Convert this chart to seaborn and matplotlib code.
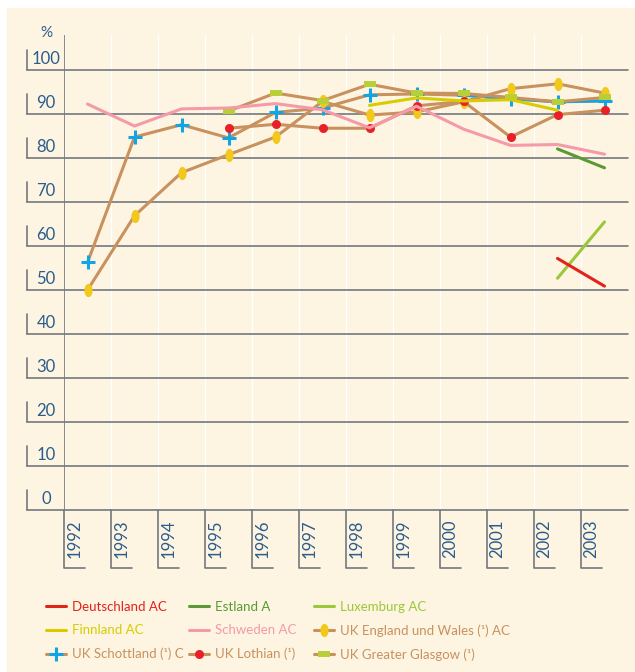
import numpy as np
import matplotlib.pyplot as plt
import pandas as pd
import seaborn as sns
from matplotlib.patches import Rectangle

# values (percent)
years = [1992, 1993, 1994, 1995, 1996, 1997, 1998, 1999, 2000, 2001, 2002, 2003]
schweden = [92.3, 87.3, 91.2, 91.4, 92.4, 91.0, 86.9, 91.8, 86.6, 82.9, 83.1, 80.9]
schottland = [56.3, 84.8, 87.6, 84.6, 90.4, 91.4, 94.4, 94.6, 94.3, 93.5, 92.8, 93.0]
england = [50.0, 66.9, 76.7, 80.8, 84.8, 92.9, 89.8, 90.5, 92.8, 95.8, 96.9, 94.8]

years_uk = [1995, 1996, 1997, 1998, 1999, 2000, 2001, 2002, 2003]
lothian = [86.8, 87.7, 86.8, 86.8, 91.9, 92.9, 84.8, 89.9, 90.9]
glasgow = [90.7, 94.8, 93.1, 96.8, 94.8, 94.7, 93.8, 92.8, 93.8]

years_fin = [1998, 1999, 2000, 2001, 2002]
finnland = [92.0, 93.7, 93.0, 93.3, 90.9]

years_end = [2002, 2003]
estland = [82.1, 77.8]
luxemburg = [52.7, 65.5]
deutschland = [57.2, 50.9]

y_ticks = [0, 10, 20, 30, 40, 50, 60, 70, 80, 90, 100]

cream = '#FDF5E2'
grey = '#74787C'
txt = '#2B5C8C'
tan = '#C8915E'
c_de = '#E2231A'
c_ee = '#5A9A32'
c_lu = '#9DC73A'
c_fi = '#D9CB00'
c_se = '#F59AA8'
c_ew = '#F2C81B'
c_sc = '#12A5E6'
c_lo = '#E8202A'
c_gg = '#B8CF3A'

sns.set_style('white')
plt.rcParams['font.family'] = ['Lato', 'DejaVu Sans']

fig = plt.figure(figsize=(6.35, 6.72), dpi=100)
fig.patches.append(Rectangle((7 / 635, 0), 1, 1 - 8 / 672, transform=fig.transFigure,
                             color=cream, zorder=-10))
ax = fig.add_axes([64 / 635, 1 - 510 / 672, 564 / 635, 475 / 672])
ax.set_facecolor(cream)
for s in ax.spines.values():
    s.set_visible(False)
ax.set_xlim(1991.5, 2003.5)
ax.set_ylim(0, 108)
ax.set_xticks([])
ax.set_yticks([])

# white column separators
for b in np.arange(1992.5, 2004, 1):
    ax.axvline(b, color='white', lw=1, zorder=1)

# horizontal grid, y labels and brackets
ytr = ax.get_yaxis_transform()
for v in y_ticks:
    ax.plot([-0.0656, 1], [v, v], color=grey, lw=1.2, transform=ytr, clip_on=False, zorder=2)
    ax.plot([-0.0656, -0.0656], [v, v + 4.5], color=grey, lw=1.2, transform=ytr,
            clip_on=False, zorder=2)
    ax.text(-0.032, v + 2.6, str(v), transform=ytr, ha='center', va='center',
            fontsize=12, color=txt)
ax.text(-0.032, 108.4, '%', transform=ytr, ha='center', va='center', fontsize=11, color=txt)
ax.axvline(1991.5, color=grey, lw=1.2, zorder=2)

# x labels with brackets
for yr in years:
    b = yr - 0.5
    ax.plot([b, b, b + 0.447], [0, -13.2, -13.2], color=grey, lw=1.2, clip_on=False)
    ax.text(b + 0.225, -2.2, str(yr), rotation=90, ha='center', va='top',
            fontsize=12, color=txt)

ell = list(zip(0.62 * np.cos(np.linspace(0, 2 * np.pi, 40)),
               np.sin(np.linspace(0, 2 * np.pi, 40))))
rect = [(-1, -0.6), (1, -0.6), (1, 0.6), (-1, 0.6), (-1, -0.6)]

handles = {}

sns.lineplot(x=years, y=schottland, ax=ax, color=tan, lw=2.2, marker='+', markersize=10,
             markeredgecolor=c_sc, markeredgewidth=2.2, zorder=5)
handles['sc'] = ax.lines[-1]
sns.lineplot(x=years[8:], y=schottland[8:], ax=ax, color=c_sc, lw=2, zorder=5)
sns.lineplot(x=years, y=england, ax=ax, color=tan, lw=2.2, marker=ell, markersize=9.5,
             markerfacecolor=c_ew, markeredgecolor=c_ew, markeredgewidth=0, zorder=5)
handles['ew'] = ax.lines[-1]
sns.lineplot(x=years_uk, y=lothian, ax=ax, color=tan, lw=2.2, marker='o', markersize=6.5,
             markerfacecolor=c_lo, markeredgecolor=c_lo, markeredgewidth=0, zorder=5)
handles['lo'] = ax.lines[-1]
sns.lineplot(x=years_uk, y=glasgow, ax=ax, color=tan, lw=2.2, marker=rect, markersize=8,
             markerfacecolor=c_gg, markeredgecolor=c_gg, markeredgewidth=0, zorder=5)
handles['gg'] = ax.lines[-1]
sns.lineplot(x=years, y=schweden, ax=ax, color=c_se, lw=2.2, zorder=6)
handles['se'] = ax.lines[-1]
sns.lineplot(x=years_fin, y=finnland, ax=ax, color=c_fi, lw=2.2, zorder=6)
handles['fi'] = ax.lines[-1]
sns.lineplot(x=years_end, y=estland, ax=ax, color=c_ee, lw=2.2, zorder=6)
handles['ee'] = ax.lines[-1]
sns.lineplot(x=years_end, y=luxemburg, ax=ax, color=c_lu, lw=2.2, zorder=6)
handles['lu'] = ax.lines[-1]
sns.lineplot(x=years_end, y=deutschland, ax=ax, color=c_de, lw=2.2, zorder=6)
handles['de'] = ax.lines[-1]

# legend, three columns placed by hand
cols = [
    (46, [('de', 'Deutschland AC', c_de), ('fi', 'Finnland AC', c_fi),
          ('sc', 'UK Schottland (¹) C', tan)]),
    (189, [('ee', 'Estland A', c_ee), ('se', 'Schweden AC', c_se),
           ('lo', 'UK Lothian (¹)', tan)]),
    (314, [('lu', 'Luxemburg AC', c_lu), ('ew', 'UK England und Wales (¹) AC', tan),
           ('gg', 'UK Greater Glasgow (¹)', tan)]),
]
for x0, entries in cols:
    leg = fig.legend([handles[k] for k, _, _ in entries], [l for _, l, _ in entries],
                     loc='upper left', bbox_to_anchor=(x0 / 635, 1 - 601 / 672),
                     frameon=False, fontsize=9.5, handlelength=1.5, handletextpad=0.45,
                     labelspacing=0.86, borderpad=0, borderaxespad=0)
    for t, (_, _, c) in zip(leg.get_texts(), entries):
        t.set_color(c)

fig.savefig('out.png', dpi=100)
